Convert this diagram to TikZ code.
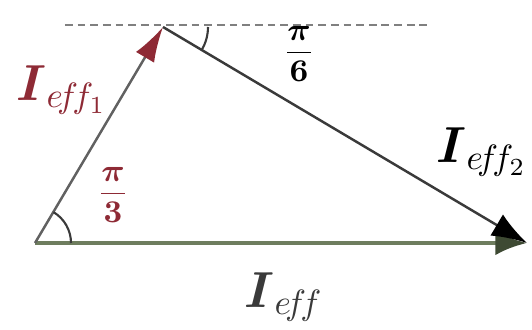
\documentclass[tikz,border=0pt]{standalone}
\usepackage{amsmath}
\usetikzlibrary{positioning,arrows.meta}
\definecolor{maroon}{HTML}{8E2A35}
\definecolor{olive}{HTML}{6E7D5E}
\definecolor{oliveDark}{HTML}{3E4A33}
\definecolor{ink}{HTML}{3A3A3A}

\begin{document}
\begin{tikzpicture}[x=0.01cm,y=0.01cm,>=latex,
  lbl/.style={font=\Large},
  ang/.style={font=\small}]
\useasboundingbox (0,0) rectangle (532,330);
\coordinate (O) at (35,87);
\coordinate (P) at (163,303);
\coordinate (R) at (527,87);
\coordinate (dl) at (65,305);
\coordinate (dr) at (432,305);
% horizontal reference line
\draw[line width=0.8pt,color=gray,dash pattern=on 2.2pt off 1.4pt] (dl) -- (dr);
% vectors
\draw[line width=1.3pt,color=olive,
  arrows={-{Latex[length=9pt,width=7pt,color=oliveDark]}}] (O) -- (R);
\draw[line width=0.7pt,color=ink!80,
  arrows={-{Latex[length=10pt,width=6pt,color=maroon]}}] (O) -- (P);
\draw[line width=0.7pt,color=ink,
  arrows={-{Latex[length=10pt,width=7pt,color=black]}}] (P) -- (R);
% angle marks
\draw[color=ink,line width=0.6pt] ([shift={(0:36)}]O) arc[start angle=0,end angle=59,radius=36];
\draw[color=ink,line width=0.6pt] ([shift={(0:45)}]P) arc[start angle=0,end angle=-31,radius=45];
% labels
\node[lbl,text=maroon] (I1) at (62,240) {$\boldsymbol{I}_{e\!f\!f_1}$};
\node[lbl] (I2) at (482,178) {$\boldsymbol{I}_{e\!f\!f_2}$};
\node[lbl,text=ink] (I) at (284,33) {$\boldsymbol{I}_{e\!f\!f}$};
\node[ang,text=maroon] (a1) at (113,135) {$\boldsymbol{\dfrac{\pi}{3}}$};
\node[ang] (a2) at (299,276) {$\boldsymbol{\dfrac{\pi}{6}}$};
\end{tikzpicture}
\end{document}
